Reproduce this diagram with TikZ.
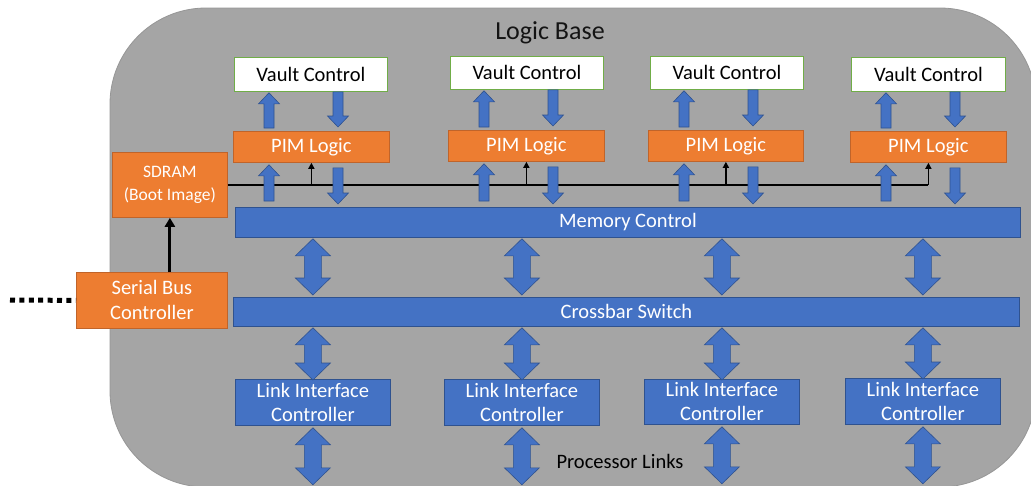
\documentclass[tikz,border=0pt]{standalone}
\usepackage{fontspec}
\setmainfont{Carlito}
\usetikzlibrary{calc,arrows.meta}

\definecolor{basegray}{RGB}{165,165,165}
\definecolor{baseedge}{RGB}{150,150,150}
\definecolor{blkfill}{RGB}{68,114,196}
\definecolor{blkedge}{RGB}{47,82,143}
\definecolor{orfill}{RGB}{237,125,49}
\definecolor{oredge}{RGB}{192,100,42}
\definecolor{vgreen}{RGB}{112,173,71}

% vertical block arrow with one head: x reference, tail, tip, tail gap, tip gap
\newcommand\blkone[5]{%
  \filldraw[blkarrow] let \p3=#1, \p1=#2, \p2=#3,
      \n1={sign(\y2-\y1)}, \n2={\y1+\n1*#4pt}, \n3={\y2-\n1*#5pt},
      \n4={\n3-\n1*11} in
    ({\x3-5pt},{\n2*1pt}) -- ({\x3-5pt},{\n4*1pt}) -- ({\x3-10.5pt},{\n4*1pt})
    -- ({\x3},{\n3*1pt}) -- ({\x3+10.5pt},{\n4*1pt}) -- ({\x3+5pt},{\n4*1pt})
    -- ({\x3+5pt},{\n2*1pt}) -- cycle;}

% vertical block arrow with heads at both ends: x reference, end A, end B, gap A, gap B
\newcommand\blktwo[5]{%
  \filldraw[blkarrow] let \p3=#1, \p1=#2, \p2=#3,
      \n1={sign(\y2-\y1)}, \n2={\y1+\n1*#4pt}, \n3={\y2-\n1*#5pt},
      \n4={\n2+\n1*17}, \n5={\n3-\n1*17} in
    ({\x3},{\n2*1pt}) -- ({\x3+17.5pt},{\n4*1pt}) -- ({\x3+8.5pt},{\n4*1pt})
    -- ({\x3+8.5pt},{\n5*1pt}) -- ({\x3+17.5pt},{\n5*1pt}) -- ({\x3},{\n3*1pt})
    -- ({\x3-17.5pt},{\n5*1pt}) -- ({\x3-8.5pt},{\n5*1pt}) -- ({\x3-8.5pt},{\n4*1pt})
    -- ({\x3-17.5pt},{\n4*1pt}) -- cycle;}

\begin{document}
\begin{tikzpicture}[x=1pt,y=-1pt,
  sz/.style 2 args={minimum width=#1pt, minimum height=#2pt},
  basebox/.style={inner sep=0pt, anchor=north west, line width=0.8pt},
  vault/.style={basebox, draw=vgreen, fill=white, text=black,
    font=\fontsize{20.5}{24.5}\selectfont},
  orange/.style={basebox, draw=oredge, fill=orfill, text=white, align=center,
    font=\fontsize{20.5}{25}\selectfont},
  bluebox/.style={basebox, draw=blkedge, fill=blkfill, text=white, align=center,
    font=\fontsize{20.5}{24}\selectfont},
  blkarrow/.style={fill=blkfill, draw=blkedge, line width=0.6pt},
  bus/.style={draw=black, line width=2pt},
  tick/.style={draw=black, line width=1.5pt, -{Triangle[width=6pt,length=6pt]}},
  boot/.style={draw=black, line width=3pt, -{Triangle[width=10pt,length=9pt]}},
  dotline/.style={draw=black, line width=5pt, dash pattern=on 5pt off 4.4pt},
  label/.style={text=black, font=\fontsize{20.5}{24}\selectfont}
]
\useasboundingbox (0,0) rectangle (1031,485);

% logic base die
\filldraw[fill=basegray, draw=baseedge, line width=0.8pt, rounded corners=96pt]
  (110,8) rectangle (1036,487);
\node[text={rgb,255:red,20;green,20;blue,20}, font=\fontsize{26}{30}\selectfont,
  anchor=base] (title) at (550,39) {Logic Base};

% vault controllers
\node[vault, sz={153}{34}] (vc1) at (234,57) {Vault Control};
\node[vault, sz={153}{33}] (vc2) at (450,56) {Vault Control};
\node[vault, sz={153}{33}] (vc3) at (650,56) {Vault Control};
\node[vault, sz={154}{34}] (vc4) at (851,57) {Vault Control};

% processing-in-memory logic
\node[orange, sz={156}{31}] (pim1) at (233,131) {PIM Logic};
\node[orange, sz={156}{31}] (pim2) at (448,130) {PIM Logic};
\node[orange, sz={155}{31}] (pim3) at (648,130) {PIM Logic};
\node[orange, sz={156}{31}] (pim4) at (850,131) {PIM Logic};

% boot path
\node[orange, sz={115}{65}, font=\fontsize{17.5}{23}\selectfont] (sdram) at (112,152)
  {SDRAM\\(Boot Image)};
\node[orange, sz={151}{56}] (sbc) at (76,272) {Serial Bus\\Controller};

% shared buses
\node[bluebox, sz={785}{30}] (mem) at (235,207) {Memory Control};
\node[bluebox, sz={786}{29}] (xbar) at (233,297) {Crossbar Switch};

% link interface controllers
\node[bluebox, sz={155}{46}] (lic1) at (235,379) {Link Interface\\Controller};
\node[bluebox, sz={155}{46}] (lic2) at (444,379) {Link Interface\\Controller};
\node[bluebox, sz={155}{45}] (lic3) at (644,379) {Link Interface\\Controller};
\node[bluebox, sz={155}{46}] (lic4) at (845,378) {Link Interface\\Controller};

\node[label, anchor=west] (plinks) at (553,461) {Processor Links};

% boot image distribution bus
\draw[bus] (sdram.east) -- (sdram.east -| pim4.south);
\draw[tick] (sdram.east -| pim4.south) -- (pim4.south);
\draw[tick] (sdram.east -| pim1.south) -- (pim1.south);
\draw[tick] (sdram.east -| pim2.south) -- (pim2.south);
\draw[tick] (sdram.east -| pim3.south) -- (pim3.south);

\draw[boot] (sdram.south |- sbc.north) -- (sdram.south);
\coordinate (ext) at (10,300);
\draw[dotline] (ext) -- (sbc.west);

% vault <-> PIM and PIM <-> memory control
\foreach \i in {1,2,3,4}{
  \blkone{($(pim\i.south west)+(36,0)$)}{(pim\i.north)}{(vc\i.south)}{3}{1}
  \blkone{($(pim\i.south west)+(105,0)$)}{(vc\i.south)}{(pim\i.north)}{0}{4}
  \blkone{($(pim\i.south west)+(36,0)$)}{(mem.north)}{(pim\i.south)}{6}{2}
  \blkone{($(pim\i.south west)+(105,0)$)}{(pim\i.south)}{(mem.north)}{5}{3}
}

% memory control <-> crossbar <-> link controllers <-> processor links
\foreach \i in {1,2,3,4}{
  \coordinate (pl\i) at ($(lic\i.south)+(0,59)$);
  \blktwo{(lic\i.south)}{(mem.south)}{(xbar.north)}{1}{2}
  \blktwo{(lic\i.south)}{(xbar.south)}{(lic\i.north)}{1}{-1}
  \blktwo{(lic\i.south)}{(lic\i.south)}{(pl\i)}{2}{0}
}
\end{tikzpicture}
\end{document}
